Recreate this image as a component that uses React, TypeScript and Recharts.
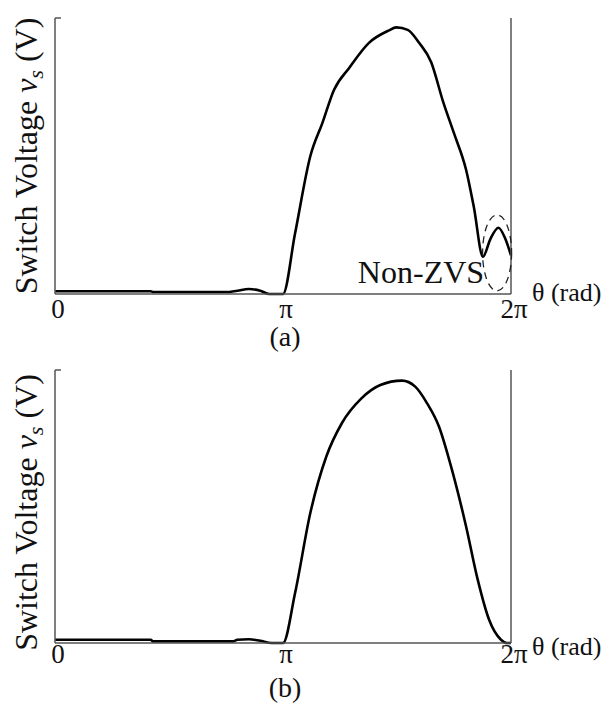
import React from "react";
import {
  LineChart,
  Line,
  XAxis,
  YAxis,
  ReferenceDot,
} from "recharts";

// theta in units of pi, switch voltage normalised to the top tick
const thetaA = [
  0, 0.42, 0.43, 0.75, 0.8, 0.85, 0.9, 0.94, 1.0, 1.053, 1.12, 1.173, 1.224,
  1.291, 1.377, 1.462, 1.497, 1.547, 1.597, 1.65, 1.701, 1.751, 1.803, 1.837,
  1.877, 1.91, 1.945, 1.975, 2.0,
];
const vsA = [
  0.01, 0.01, 0.007, 0.007, 0.012, 0.018, 0.012, 0, 0, 0.22, 0.5, 0.62, 0.74,
  0.82, 0.91, 0.954, 0.966, 0.957, 0.91, 0.84, 0.7, 0.58, 0.45, 0.315, 0.135,
  0.2, 0.24, 0.2, 0.14,
];

const thetaB = [
  0, 0.42, 0.43, 0.78, 0.8, 0.85, 0.9, 0.95, 1.0, 1.053, 1.12, 1.19, 1.258,
  1.344, 1.427, 1.522, 1.58, 1.632, 1.684, 1.733, 1.803, 1.854, 1.904, 1.956,
  1.981, 2.0,
];
const vsB = [
  0.012, 0.012, 0.006, 0.006, 0.012, 0.014, 0.008, 0, 0, 0.183, 0.477, 0.683,
  0.805, 0.896, 0.945, 0.961, 0.939, 0.878, 0.793, 0.659, 0.427, 0.232, 0.085,
  0.012, 0, 0,
];

const xTicks = [0, 1, 2];
const xTickLabels = ["0", "\u03c0", "2\u03c0"];
const yTicks = [1];

// Non-ZVS marker (theta / pi, voltage)
const nonZvsTheta = 1.939;
const nonZvsVs = 0.149;

const FONT =
  '"Times New Roman", Times, "Liberation Serif", Tinos, "DejaVu Serif", "Noto Serif", serif';
const AXIS = "#555";
const serif = { fontFamily: FONT };

function LeftTick(props: any) {
  const { x, y } = props;
  return <line x1={x} x2={x + 6} y1={y} y2={y} stroke={AXIS} strokeWidth={1.5} />;
}

function RightTick(props: any) {
  const { x, y } = props;
  return <line x1={x} x2={x - 6} y1={y} y2={y} stroke={AXIS} strokeWidth={1.5} />;
}

interface PanelProps {
  theta: number[];
  vs: number[];
  height: number;
  xAxisHeight: number;
  tickMargin: number;
  caption: string;
  captionDy: number;
  unitDy: number;
  ylabelShift: number;
  showNonZvs?: boolean;
}

function Panel({
  theta,
  vs,
  height,
  xAxisHeight,
  tickMargin,
  caption,
  captionDy,
  unitDy,
  ylabelShift,
  showNonZvs,
}: PanelProps) {
  const data = theta.map((t, i) => ({ theta: t, vs: vs[i] }));

  const yLabel = (p: any) => {
    const vb = p.viewBox;
    const cx = 37;
    const cy = vb.y + vb.height / 2 + ylabelShift;
    return (
      <text
        x={cx}
        y={cy}
        transform={`rotate(-90 ${cx} ${cy})`}
        textAnchor="middle"
        style={serif}
        fontSize={32}
        fill="#111"
      >
        Switch Voltage{" "}
        <tspan fontStyle="italic">v</tspan>
        <tspan fontStyle="italic" fontSize={22} dy={6}>
          s
        </tspan>
        <tspan dy={-6}> (V)</tspan>
      </text>
    );
  };

  const xLabel = (p: any) => {
    const vb = p.viewBox;
    return (
      <g fill="#111">
        <text x={vb.x + vb.width + 21} y={vb.y + unitDy} fontSize={26} style={serif}>
          θ (rad)
        </text>
        <text
          x={vb.x + vb.width / 2 + 2}
          y={vb.y + captionDy}
          fontSize={28}
          textAnchor="middle"
          style={serif}
        >
          {caption}
        </text>
      </g>
    );
  };

  const nonZvsShape = (p: any) => (
    <g>
      <ellipse
        cx={p.cx}
        cy={p.cy}
        rx={14.5}
        ry={38}
        fill="none"
        stroke="#222"
        strokeWidth={1.3}
        strokeDasharray="7 5"
      />
      <text
        x={p.cx - 13}
        y={p.cy + 30}
        textAnchor="end"
        style={serif}
        fontSize={32}
        fill="#111"
      >
        Non-ZVS
      </text>
    </g>
  );

  return (
    <LineChart
      width={610}
      height={height}
      data={data}
      margin={{ top: 18, right: 0, bottom: 0, left: 0 }}
    >
      <XAxis
        dataKey="theta"
        type="number"
        domain={[0, 2]}
        ticks={xTicks}
        tickFormatter={(v: number) => xTickLabels[xTicks.indexOf(v)]}
        height={xAxisHeight}
        tickLine={false}
        tickSize={0}
        tickMargin={tickMargin}
        axisLine={{ stroke: AXIS, strokeWidth: 1.5 }}
        tick={{ style: serif, fontSize: 27, fill: "#111", dx: 3 }}
        interval={0}
        label={{ content: xLabel }}
      />
      <YAxis
        yAxisId="left"
        domain={[0, 1]}
        ticks={yTicks}
        width={55}
        tickSize={0}
        tickMargin={0}
        tickLine={false}
        tick={LeftTick}
        axisLine={{ stroke: AXIS, strokeWidth: 1.5 }}
        label={{ content: yLabel }}
      />
      <YAxis
        yAxisId="right"
        orientation="right"
        domain={[0, 1]}
        ticks={yTicks}
        width={99}
        tickSize={0}
        tickMargin={0}
        tickLine={false}
        tick={RightTick}
        axisLine={{ stroke: AXIS, strokeWidth: 1.5 }}
      />
      <Line
        yAxisId="left"
        type="monotone"
        dataKey="vs"
        stroke="#000"
        strokeWidth={2.6}
        dot={false}
        isAnimationActive={false}
      />
      {showNonZvs && (
        <ReferenceDot
          yAxisId="left"
          x={nonZvsTheta}
          y={nonZvsVs}
          shape={nonZvsShape}
        />
      )}
    </LineChart>
  );
}

export default function App() {
  return (
    <div
      style={{
        position: "absolute",
        left: 0,
        top: 0,
        width: 610,
        height: 703,
        background: "#fff",
      }}
    >
      <Panel
        theta={thetaA}
        vs={vsA}
        height={352}
        xAxisHeight={58}
        tickMargin={5}
        caption="(a)"
        captionDy={52}
        unitDy={7}
        ylabelShift={0}
        showNonZvs
      />
      <Panel
        theta={thetaB}
        vs={vsB}
        height={351}
        xAxisHeight={60}
        tickMargin={1}
        caption="(b)"
        captionDy={54}
        unitDy={12}
        ylabelShift={6}
      />
    </div>
  );
}
